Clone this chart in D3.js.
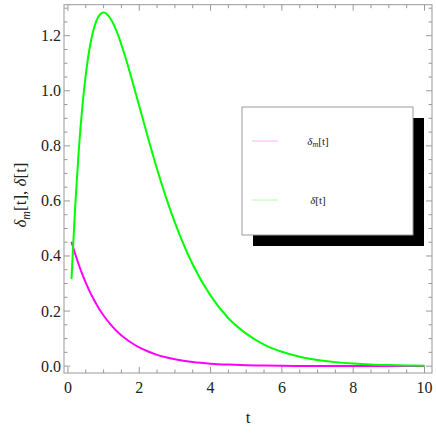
<!DOCTYPE html>
<html>
<head>
<meta charset="utf-8">
<title>delta plot</title>
<style>
  html, body { margin: 0; padding: 0; background: #fff; }
  svg { display: block; }
  .frame { fill: none; stroke: #999; stroke-width: 1; }
  .tick line { stroke: #999; }
</style>
<script src="https://cdn.jsdelivr.net/npm/d3@7"></script>
</head>
<body>
<div id="main"></div>
<script>
var tValues = [0.1, 0.2, 0.3, 0.4, 0.5, 0.6, 0.7, 0.8, 0.9, 1.0, 1.2, 1.4, 1.6, 1.8, 2.0,
               2.25, 2.5, 2.75, 3.0, 3.5, 4.0, 4.5, 5.0, 5.5, 6.0, 6.5, 7.0, 7.5, 8.0, 8.5, 9.0, 9.5, 10.0];
// delta_m[t] (magenta)
var deltaM = [0.452, 0.409, 0.370, 0.335, 0.303, 0.274, 0.248, 0.225, 0.203, 0.184, 0.151, 0.123, 0.101, 0.083, 0.068,
              0.053, 0.041, 0.032, 0.025, 0.015, 0.009, 0.0056, 0.0034, 0.002, 0.0012, 0.0008, 0.0005, 0.0003, 0.0002, 0.0001, 0.0001, 0.0, 0.0];
// delta[t] (green)
var delta = [0.316, 0.571, 0.776, 0.936, 1.058, 1.149, 1.213, 1.255, 1.277, 1.284, 1.261, 1.205, 1.127, 1.038, 0.945,
             0.828, 0.716, 0.613, 0.521, 0.369, 0.256, 0.174, 0.118, 0.078, 0.052, 0.034, 0.022, 0.0145, 0.0094, 0.006, 0.0039, 0.0025, 0.0016];
var xTicks = [0, 2, 4, 6, 8, 10];
var yTicks = [0.0, 0.2, 0.4, 0.6, 0.8, 1.0, 1.2];
var seriesNames = ["m", ""];
var seriesColors = ["#ff00ff", "#00ff00"];
var legendColors = ["#ffb0ff", "#b0ffb0"];

var width = 436, height = 436;
var plotLeft = 64, plotRight = 432, plotTop = 4.7, plotBottom = 373;
var serif = "Liberation Serif, DejaVu Serif, serif";

var svg = d3.select("#main").append("svg")
    .attr("width", width)
    .attr("height", height)
    .attr("font-family", serif);

var x = d3.scaleLinear().domain([-0.11, 10.21]).range([plotLeft, plotRight]);
var y = d3.scaleLinear().domain([-0.025, 1.3127]).range([plotBottom, plotTop]);

var xMinor = d3.range(0, 10.01, 0.5);
var yMinor = d3.range(0, 1.3001, 0.05);

function isMajor(v, list) {
    return list.some(function(m) { return Math.abs(m - v) < 1e-6; });
}

// ticks on all four sides, pointing inward
var ticks = svg.append("g").attr("class", "tick");
xMinor.forEach(function(v) {
    var len = isMajor(v, xTicks) ? 6 : 3.5;
    ticks.append("line").attr("x1", x(v)).attr("x2", x(v)).attr("y1", plotBottom).attr("y2", plotBottom - len);
    ticks.append("line").attr("x1", x(v)).attr("x2", x(v)).attr("y1", plotTop).attr("y2", plotTop + len);
});
yMinor.forEach(function(v) {
    var len = isMajor(v, yTicks) ? 6 : 3.5;
    ticks.append("line").attr("x1", plotLeft).attr("x2", plotLeft + len).attr("y1", y(v)).attr("y2", y(v));
    ticks.append("line").attr("x1", plotRight).attr("x2", plotRight - len).attr("y1", y(v)).attr("y2", y(v));
});

svg.append("rect").attr("class", "frame")
    .attr("x", plotLeft).attr("y", plotTop)
    .attr("width", plotRight - plotLeft).attr("height", plotBottom - plotTop);

svg.selectAll(".xlab").data(xTicks).enter().append("text")
    .attr("font-family", serif).attr("font-size", 16).attr("fill", "#222")
    .attr("x", function(d) { return x(d); })
    .attr("y", 393)
    .attr("text-anchor", "middle")
    .text(function(d) { return d; });

svg.selectAll(".ylab").data(yTicks).enter().append("text")
    .attr("font-family", serif).attr("font-size", 16).attr("fill", "#222")
    .attr("x", 61)
    .attr("y", function(d) { return y(d) + 5.5; })
    .attr("text-anchor", "end")
    .text(function(d) { return d.toFixed(1); });

// curves
var series = [deltaM, delta];
var line = d3.line()
    .x(function(d, i) { return x(tValues[i]); })
    .y(function(d) { return y(d); })
    .curve(d3.curveMonotoneX);

series.forEach(function(s, k) {
    svg.append("path")
        .datum(s)
        .attr("fill", "none")
        .attr("stroke", seriesColors[k])
        .attr("stroke-width", 2)
        .attr("d", line);
});

// axis titles
svg.append("text")
    .attr("font-family", serif).attr("font-size", 17).attr("fill", "#222")
    .attr("x", 248).attr("y", 423)
    .attr("text-anchor", "middle")
    .text("t");

var yt = svg.append("text")
    .attr("font-family", serif).attr("font-size", 17).attr("fill", "#222")
    .attr("transform", "translate(26,195) rotate(-90)")
    .attr("text-anchor", "middle");
yt.append("tspan").attr("font-style", "italic").text("δ");
yt.append("tspan").attr("font-style", "italic").attr("font-size", 12).attr("dy", 4).text("m");
yt.append("tspan").attr("dy", -4).text("[t], ");
yt.append("tspan").attr("font-style", "italic").text("δ");
yt.append("tspan").text("[t]");

// legend
var lg = svg.append("g");
lg.append("rect").attr("x", 253).attr("y", 118).attr("width", 171).attr("height", 128).attr("fill", "#000");
lg.append("rect").attr("x", 242).attr("y", 107).attr("width", 171).attr("height", 128)
    .attr("fill", "#fff").attr("stroke", "#999");

var legendY = [141, 200];
seriesNames.forEach(function(name, k) {
    lg.append("line")
        .attr("x1", 252).attr("x2", 278)
        .attr("y1", legendY[k]).attr("y2", legendY[k])
        .attr("stroke", legendColors[k]).attr("stroke-width", 1);
    var t = lg.append("text")
        .attr("font-family", serif).attr("font-size", 11).attr("fill", "#222")
        .attr("x", 318).attr("y", legendY[k] + 4)
        .attr("text-anchor", "middle");
    t.append("tspan").attr("font-style", "italic").text("δ");
    if (name) {
        t.append("tspan").attr("font-style", "italic").attr("font-size", 8).attr("dy", 2).text(name);
        t.append("tspan").attr("dy", -2).text("[t]");
    } else {
        t.append("tspan").text("[t]");
    }
});
</script>
</body>
</html>
